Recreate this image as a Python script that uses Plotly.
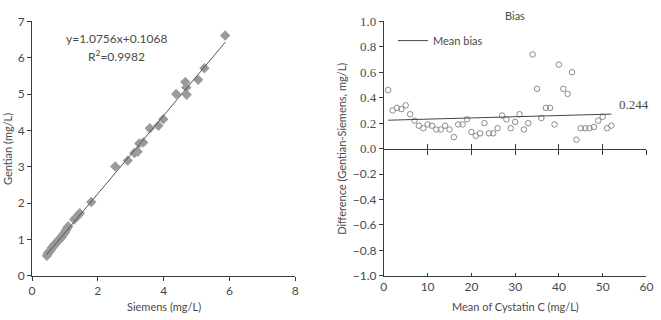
import plotly.graph_objects as go

# ---- Left panel data (Siemens vs Gentian) ----
siemens = [0.45, 0.48, 0.50, 0.52, 0.55, 0.57, 0.60, 0.62, 0.65, 0.68, 0.70, 0.72,
           0.75, 0.78, 0.80, 0.82, 0.85, 0.88, 0.90, 0.93, 0.96, 1.00, 1.03, 1.06,
           1.10, 1.28, 1.33, 1.41, 1.45, 1.80, 2.53, 2.91, 3.11, 3.21, 3.26, 3.38,
           3.58, 3.84, 3.99, 4.38, 4.66, 4.69, 4.70, 5.05, 5.24, 5.87]
gentian = [0.55, 0.61, 0.64, 0.66, 0.70, 0.71, 0.77, 0.78, 0.82, 0.85, 0.87, 0.90,
           0.92, 0.95, 0.98, 0.99, 1.02, 1.05, 1.08, 1.10, 1.16, 1.20, 1.25, 1.30,
           1.36, 1.55, 1.60, 1.67, 1.72, 2.03, 3.01, 3.17, 3.38, 3.41, 3.64, 3.67,
           4.06, 4.13, 4.31, 5.00, 5.33, 5.18, 4.98, 5.39, 5.71, 6.61]
fit_slope = 1.0756
fit_intercept = 0.1068
fit_x = [0.43, 5.88]
fit_y = [fit_slope * v + fit_intercept for v in fit_x]

# ---- Right panel data (Bias) ----
bias_x = list(range(1, 53))
bias_y = [0.46, 0.30, 0.32, 0.31, 0.34, 0.27, 0.22, 0.18, 0.16, 0.19, 0.18, 0.15,
          0.15, 0.18, 0.15, 0.09, 0.19, 0.19, 0.23, 0.13, 0.10, 0.12, 0.20, 0.12,
          0.12, 0.16, 0.26, 0.23, 0.16, 0.21, 0.27, 0.15, 0.20, 0.74, 0.47, 0.24,
          0.32, 0.32, 0.19, 0.66, 0.47, 0.43, 0.60, 0.07, 0.16, 0.16, 0.16, 0.17,
          0.22, 0.25, 0.16, 0.18]
mean_line_x = [1, 52]
mean_line_y = [0.223, 0.271]
mean_bias_label = "0.244"

W, H = 661, 320
def px(x):
    return x / W
def py(y):
    return (H - y) / H

AX = "#3a3a3a"
TXT = "#4a4a4a"
SANS = "Lato, 'Open Sans', sans-serif"
SERIF = "'Liberation Serif', 'DejaVu Serif', serif"

L_dom = [px(29.5), px(296.7)]
R_dom = [px(386.7), px(653.3)]
Y_dom = [py(281), py(14)]
zero_pos = Y_dom[0] + (Y_dom[1] - Y_dom[0]) / 2

fig = go.Figure()

fig.add_trace(go.Scatter(x=siemens, y=gentian, mode="markers",
                         marker=dict(symbol="diamond", size=8, color="#9a9a9a"),
                         xaxis="x", yaxis="y", showlegend=False))
fig.add_trace(go.Scatter(x=fit_x, y=fit_y, mode="lines",
                         line=dict(color="#555555", width=1),
                         xaxis="x", yaxis="y", showlegend=False))

fig.add_trace(go.Scatter(x=bias_x, y=bias_y, mode="markers",
                         marker=dict(symbol="circle-open", size=5.5, color="#8a8a8a",
                                     line=dict(color="#8a8a8a", width=1)),
                         xaxis="x2", yaxis="y2", showlegend=False))
fig.add_trace(go.Scatter(x=mean_line_x, y=mean_line_y, mode="lines",
                         line=dict(color="#444444", width=1),
                         name="Mean bias", xaxis="x2", yaxis="y2", showlegend=True))
# invisible helpers for overlay axes
fig.add_trace(go.Scatter(x=[0], y=[0], mode="markers", marker=dict(opacity=0),
                         xaxis="x3", yaxis="y2", showlegend=False, hoverinfo="skip"))
fig.add_trace(go.Scatter(x=[0], y=[0], mode="markers", marker=dict(opacity=0),
                         xaxis="x4", yaxis="y2", showlegend=False, hoverinfo="skip"))
fig.add_trace(go.Scatter(x=[0], y=[0], mode="markers", marker=dict(opacity=0),
                         xaxis="x2", yaxis="y3", showlegend=False, hoverinfo="skip"))

common = dict(showgrid=False, zeroline=False, showline=True, linecolor=AX,
              linewidth=1, tickcolor=AX, tickwidth=1, fixedrange=True)

fig.update_layout(
    width=W, height=H, margin=dict(l=0, r=0, t=0, b=0),
    paper_bgcolor="white", plot_bgcolor="white",
    font=dict(family=SANS, color=TXT, size=11),
    xaxis=dict(domain=L_dom, anchor="y", range=[0, 8], tickvals=[0, 2, 4, 6, 8],
               ticks="outside", ticklen=4, tickfont=dict(size=12, color=TXT),
               **common),
    yaxis=dict(domain=Y_dom, anchor="x", range=[0, 7], tickvals=list(range(8)),
               ticks="outside", ticklen=4, tickfont=dict(size=12, color=TXT),
               **common),
    xaxis2=dict(domain=R_dom, anchor="y2", range=[0, 60],
                tickvals=[0, 10, 20, 30, 40, 50, 60],
                ticks="inside", ticklen=3, tickfont=dict(size=12, color=TXT),
                **common),
    yaxis2=dict(domain=Y_dom, anchor="x2", range=[-1, 1],
                tickvals=[-1.0, -0.8, -0.6, -0.4, -0.2],
                ticktext=["\u22121.0", "\u22120.8", "\u22120.6", "\u22120.4", "\u22120.2"],
                ticks="outside", ticklen=4, tickfont=dict(size=12, color=TXT),
                **common),
    yaxis3=dict(overlaying="y2", anchor="x2", range=[-1, 1],
                tickvals=[0.0, 0.2, 0.4, 0.6, 0.8, 1.0],
                ticktext=["0.0", "0.2", "0.4", "0.6", "0.8", "1.0"],
                ticks="outside", ticklen=4,
                tickfont=dict(family=SERIF, size=13, color=TXT),
                **common),
    xaxis3=dict(overlaying="x2", anchor="free", position=zero_pos, range=[0, 60],
                tickvals=[10, 20, 30, 40, 50, 60], showticklabels=False,
                ticks="outside", ticklen=5, **common),
    xaxis4=dict(overlaying="x2", anchor="free", position=zero_pos, range=[0, 60],
                tickvals=[10, 20, 30, 40, 50, 60], showticklabels=False,
                ticks="inside", ticklen=5, **common),
    legend=dict(x=px(396), y=py(19), xanchor="left", yanchor="top",
                bgcolor="rgba(0,0,0,0)", font=dict(size=11, color=TXT),
                itemwidth=30, tracegroupgap=0),
    showlegend=True,
)

def ann(text, x, y, **kw):
    d = dict(text=text, x=x, y=y, xref="paper", yref="paper", showarrow=False,
             xanchor="center", yanchor="middle", font=dict(size=11, color=TXT))
    d.update(kw)
    return d

annotations = [
    ann("y=1.0756x+0.1068", px(115), py(32), font=dict(size=12, color=TXT)),
    ann("R<sup>2</sup>=0.9982", px(115), py(50), font=dict(size=12, color=TXT)),
    ann("Siemens (mg/L)", px(163), py(313)),
    ann("Gentian (mg/L)", px(4), py(148), textangle=-90),
    ann("Mean of Cystatin C (mg/L)", px(520), py(313)),
    ann("Difference (Gentian-Siemens, mg/L)", px(343), py(148), textangle=-90),
    ann("Bias", px(520), py(8)),
    dict(text=mean_bias_label, x=mean_line_x[-1], y=mean_line_y[-1], xref="x2",
         yref="y2", xanchor="left", yanchor="bottom", xshift=6, yshift=0,
         showarrow=False, font=dict(family=SERIF, size=13, color=TXT)),
]
fig.update_layout(annotations=annotations)

fig.write_html("out.html")
